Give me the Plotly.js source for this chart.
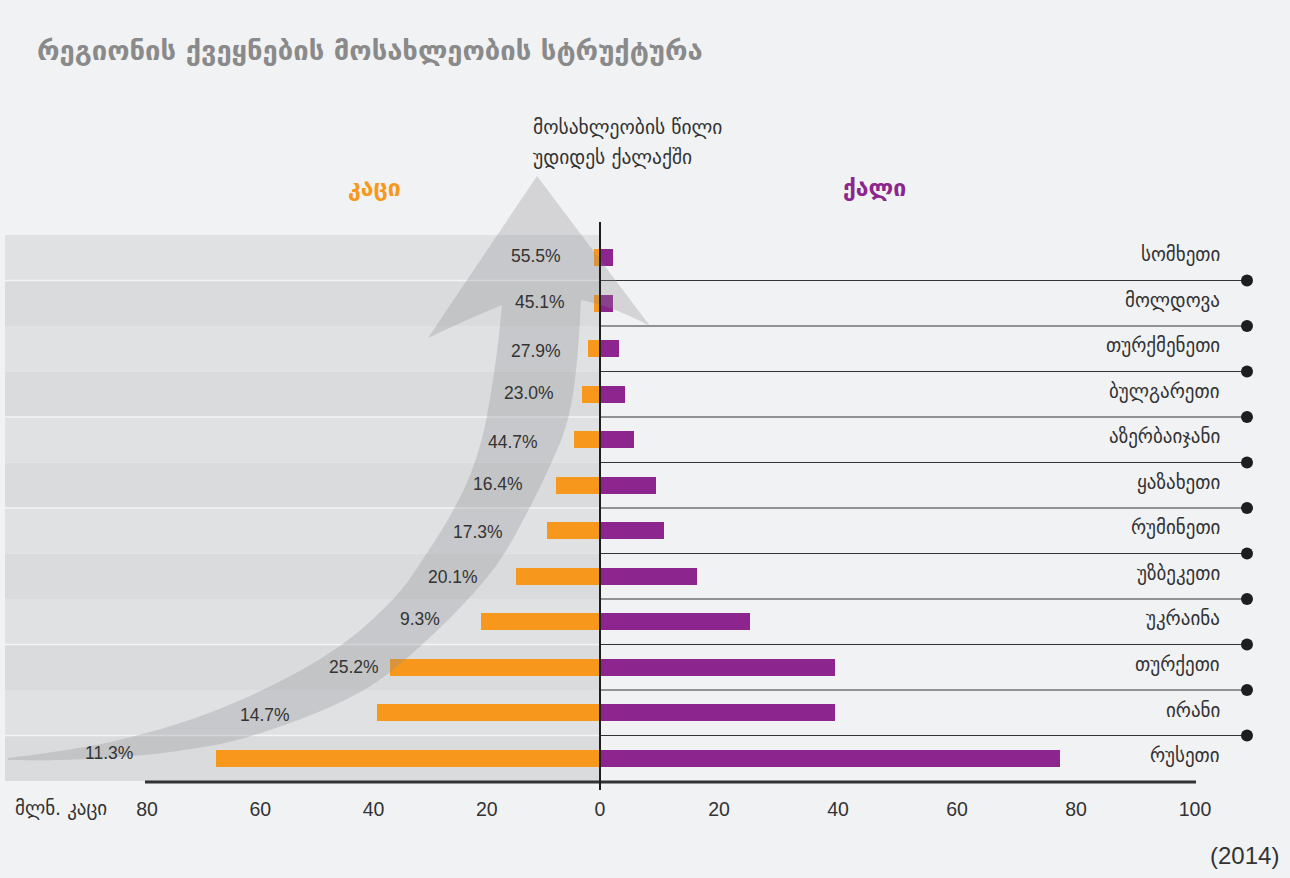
<!DOCTYPE html>
<html>
<head>
<meta charset="utf-8">
<script src="https://cdn.plot.ly/plotly-3.0.1.min.js"></script>
<style>html,body{margin:0;padding:0;background:#f1f2f4;}</style>
</head>
<body>
<div id="chart" style="width:1290px;height:878px;"></div>
<script>
// ---------- data ----------
const countries = ['სომხეთი','მოლდოვა','თურქმენეთი','ბულგარეთი','აზერბაიჯანი','ყაზახეთი','რუმინეთი','უზბეკეთი','უკრაინა','თურქეთი','ირანი','რუსეთი'];
const men   = [1.1, 1.1, 2.2, 3.1, 4.6, 7.8, 9.4, 14.8, 21.0, 37.1, 39.4, 67.8];
const women = [2.2, 2.2, 3.2, 4.2, 5.7, 9.4, 10.8, 16.3, 25.2, 39.5, 39.5, 77.3];
const cityShare = ['55.5%','45.1%','27.9%','23.0%','44.7%','16.4%','17.3%','20.1%','9.3%','25.2%','14.7%','11.3%'];
const menTicks = [0, 20, 40, 60, 80];
const womenTicks = [20, 40, 60, 80, 100];
const titleText = 'რეგიონის ქვეყნების მოსახლეობის სტრუქტურა';
const menLabel = 'კაცი';
const womenLabel = 'ქალი';
const arrowNoteLines = ['მოსახლეობის წილი', 'უდიდეს ქალაქში'];
const unitLabel = 'მლნ. კაცი';
const yearLabel = '(2014)';

// ---------- layout helpers (pixel -> paper) ----------
const W = 1290, H = 878;
const px = x => x / W;
const py = y => 1 - y / H;
const GEO = 'DejaVu Sans, Noto Sans, sans-serif';
const NUM = 'Liberation Sans Narrow, Liberation Sans, Arial, sans-serif';
const ORANGE = '#f7981d', PURPLE = '#8c268e';

// positions of the share labels along the arrow (pixels)
const shareLabelPos = [[536,256],[540,302],[536,351],[529,393],[513,442],[498,484],[478,532],[453,577],[420,619],[354,667],[265,715],[109,753]];

const traces = [
  {type:'bar', orientation:'h', x: men, y: countries, xaxis:'x', yaxis:'y',
   marker:{color: ORANGE}, width:0.37, hoverinfo:'x+y', name: menLabel},
  {type:'bar', orientation:'h', x: women, y: countries, xaxis:'x2', yaxis:'y',
   marker:{color: PURPLE}, width:0.37, hoverinfo:'x+y', name: womenLabel}
];

const shapes = [];
// background bands on the left
countries.forEach((c, i) => {
  shapes.push({type:'rect', layer:'below', xref:'paper', yref:'y',
    x0: px(5), x1: px(600), y0: i - 0.5, y1: i + 0.5,
    fillcolor: i % 2 === 0 ? '#e0e1e3' : '#dadbdd', line:{width:0}});
});
[0.5, 3.5, 5.5, 8.5, 10.5].forEach(v => {
  shapes.push({type:'line', layer:'below', xref:'paper', yref:'y',
    x0: px(5), x1: px(600), y0: v, y1: v, line:{color:'#f3f4f6', width:1.5}});
});
// right separator lines + dots
for (let i = 0; i < countries.length - 1; i++) {
  shapes.push({type:'line', layer:'below', xref:'paper', yref:'y',
    x0: px(600), x1: px(1247), y0: i + 0.5, y1: i + 0.5, line:{color:'#333', width:1.2}});
  shapes.push({type:'circle', xref:'paper', yref:'y', xsizemode:'pixel', ysizemode:'pixel',
    xanchor: px(1247), yanchor: i + 0.5, x0:-6, x1:6, y0:-6, y1:6,
    fillcolor:'#1e1e1e', line:{width:0}});
}

// curved arrow path (pixels) smoothed with Catmull-Rom
function smooth(pts) {
  let d = '';
  for (let i = 0; i < pts.length - 1; i++) {
    const p0 = pts[Math.max(i-1,0)], p1 = pts[i], p2 = pts[i+1], p3 = pts[Math.min(i+2, pts.length-1)];
    const c1 = [p1[0] + (p2[0]-p0[0])/6, p1[1] + (p2[1]-p0[1])/6];
    const c2 = [p2[0] - (p3[0]-p1[0])/6, p2[1] - (p3[1]-p1[1])/6];
    d += ` C ${px(c1[0])},${py(c1[1])} ${px(c2[0])},${py(c2[1])} ${px(p2[0])},${py(p2[1])}`;
  }
  return d;
}
const outer = [[8,758],[60,751],[119,740],[198,717],[277,683],[344,643],[395,597],[427,553],[455,507],[472,470],[484,430],[493,380],[499,335],[502,305]];
const inner = [[581,300],[578,350],[572,400],[563,435],[548,470],[530,507],[502,557],[470,597],[427,640],[375,683],[316,713],[237,740],[170,752],[119,757],[60,760],[8,760]];
let path = `M ${px(outer[0][0])},${py(outer[0][1])}` + smooth(outer);
path += ` Q ${px(470)},${py(318)} ${px(428)},${py(338)}`;
path += ` L ${px(537)},${py(176)} L ${px(650)},${py(326)}`;
path += ` Q ${px(612)},${py(306)} ${px(inner[0][0])},${py(inner[0][1])}`;
path += smooth(inner) + ' Z';
shapes.push({type:'path', layer:'above', xref:'paper', yref:'paper', path: path,
  fillcolor:'rgba(137,138,140,0.28)', line:{width:0}});

// axis lines
shapes.push({type:'line', layer:'above', xref:'paper', yref:'paper',
  x0: px(145), x1: px(1196), y0: py(782), y1: py(782), line:{color:'#333', width:3}});
shapes.push({type:'line', layer:'above', xref:'paper', yref:'paper',
  x0: px(600), x1: px(600), y0: py(222), y1: py(790), line:{color:'#1e1e1e', width:2}});

const annotations = [];
// share labels
cityShare.forEach((t, i) => {
  annotations.push({xref:'paper', yref:'paper', x: px(shareLabelPos[i][0]), y: py(shareLabelPos[i][1]),
    text: t, showarrow:false, xanchor:'center', yanchor:'middle',
    font:{family:'Liberation Sans, Arial, sans-serif', size:17.5, color:'#333'}});
});
// country labels
countries.forEach((c, i) => {
  annotations.push({xref:'paper', yref:'y', x: px(1222), y: i, yshift: 3,
    text: c, showarrow:false, xanchor:'right', yanchor:'middle',
    font:{family: GEO, size:19, color:'#333'}});
});
annotations.push({xref:'paper', yref:'paper', x: px(374), y: py(188), text: '<b>' + menLabel + '</b>',
  showarrow:false, xanchor:'center', yanchor:'middle', font:{family:GEO, size:23, color: ORANGE}});
annotations.push({xref:'paper', yref:'paper', x: px(874), y: py(188), text: '<b>' + womenLabel + '</b>',
  showarrow:false, xanchor:'center', yanchor:'middle', font:{family:GEO, size:23, color: PURPLE}});
arrowNoteLines.forEach((t, i) => {
  annotations.push({xref:'paper', yref:'paper', x: px(531), y: py(127 + 31 * i), text: t,
    showarrow:false, xanchor:'left', yanchor:'middle', align:'left',
    font:{family:GEO, size:19.5, color:'#333'}});
});
annotations.push({xref:'paper', yref:'paper', x: px(13), y: py(808), text: unitLabel,
  showarrow:false, xanchor:'left', yanchor:'middle', font:{family:GEO, size:19, color:'#333'}});
annotations.push({xref:'paper', yref:'paper', x: px(1281), y: py(855), text: yearLabel,
  showarrow:false, xanchor:'right', yanchor:'middle', font:{family:NUM, size:24, color:'#333'}});

const layout = {
  width: W, height: H,
  margin:{l:0, r:0, t:0, b:0, pad:0},
  paper_bgcolor:'#f1f2f4', plot_bgcolor:'rgba(0,0,0,0)',
  showlegend:false, bargap:0,
  title:{text: '<b>' + titleText + '</b>', x: px(37), xanchor:'left', y: py(50), yanchor:'middle',
    font:{family: GEO, size:27.4, color:'#8a8a8a'}},
  xaxis:{domain:[px(147), px(600)], range:[80, 0], anchor:'y', tickvals: menTicks,
    showgrid:false, zeroline:false, showline:false, ticks:'outside', ticklen:11, tickcolor:'rgba(0,0,0,0)',
    tickfont:{family: NUM, size:19.5, color:'#333'}, fixedrange:true},
  xaxis2:{domain:[px(600), px(1195)], range:[0, 100], anchor:'y', tickvals: womenTicks,
    showgrid:false, zeroline:false, showline:false, ticks:'outside', ticklen:11, tickcolor:'rgba(0,0,0,0)',
    tickfont:{family: NUM, size:19.5, color:'#333'}, fixedrange:true},
  yaxis:{domain:[py(781), py(235)], type:'category', categoryorder:'array', categoryarray: countries,
    range:[11.5, -0.5], showticklabels:false, showgrid:false, zeroline:false, showline:false, ticks:'', fixedrange:true},
  shapes: shapes,
  annotations: annotations
};

Plotly.newPlot('chart', traces, layout, {displayModeBar:false, staticPlot:true});
</script>
</body>
</html>
